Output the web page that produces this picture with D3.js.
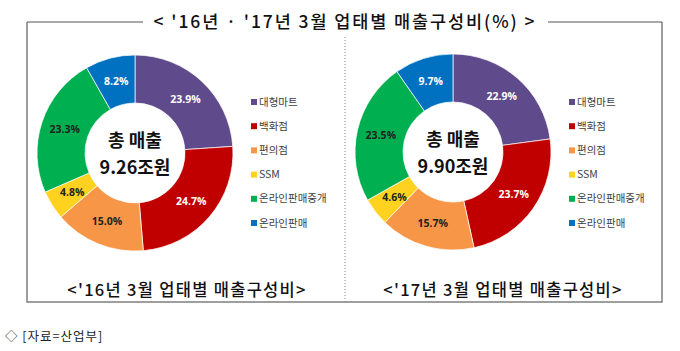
<!DOCTYPE html>
<html><head><meta charset="utf-8">
<script src="https://cdn.jsdelivr.net/npm/d3@7"></script>
<style>body{margin:0;background:#fff}svg{display:block}</style>
</head><body>
<svg id="c" width="680" height="351"></svg>
<script>
const categories = ["대형마트","백화점","편의점","SSM","온라인판매중개","온라인판매"];
const values2016 = [23.9,24.7,15.0,4.8,23.3,8.2];
const values2017 = [22.9,23.7,15.7,4.6,23.5,9.7];
const totals = ["9.26조원","9.90조원"];
const captions = ["<'16년 3월 업태별 매출구성비>","<'17년 3월 업태별 매출구성비>"];
const title = "< '16년 · '17년 3월 업태별 매출구성비(%) >";
const source = "◇ [자료=산업부]";
const colors = ["#5f4b8b","#c00000","#f79646","#ffd21f","#00b050","#0070c0"];
const labelColors = ["#fff","#fff","#222","#222","#222","#fff"];

const svg = d3.select("#c");
const KR = "'Noto Sans CJK KR', sans-serif";

// frame
const fx0=27, fx1=662, fy0=22, fy1=302;
svg.append("path").attr("d",`M${fx0},${fy0} L${fx0},${fy1} L${fx1},${fy1} L${fx1},${fy0}`)
  .attr("fill","none").attr("stroke","#7f7f7f").attr("stroke-width",1.5);
svg.append("line").attr("x1",fx0).attr("x2",143).attr("y1",fy0).attr("y2",fy0).attr("stroke","#555").attr("stroke-width",1);
svg.append("line").attr("x1",548).attr("x2",fx1).attr("y1",fy0).attr("y2",fy0).attr("stroke","#555").attr("stroke-width",1);
svg.append("line").attr("x1",345).attr("x2",345).attr("y1",37).attr("y2",fy1)
  .attr("stroke","#888").attr("stroke-width",1).attr("stroke-dasharray","1,2");

svg.append("text").attr("x",345).attr("y",28).attr("text-anchor","middle")
  .attr("font-family",KR).attr("font-weight",500).attr("font-size",17.5).attr("letter-spacing",1.9)
  .attr("fill","#111").text(title);

const pie = d3.pie().sort(null).value(d=>d);
const arc = d3.arc().innerRadius(50).outerRadius(98);
const labelArc = d3.arc().innerRadius(74).outerRadius(74);

function donut(vals, cx, cy, total, caption, capX, legX){
  const g = svg.append("g").attr("transform",`translate(${cx},${cy})`);
  const arcs = pie(vals);
  g.selectAll("path").data(arcs).join("path").attr("d",arc)
    .attr("fill",(d,i)=>colors[i]).attr("stroke","#fff").attr("stroke-opacity",0.7).attr("stroke-width",1);
  g.selectAll("text.lbl").data(arcs).join("text").attr("class","lbl")
    .attr("transform",d=>`translate(${labelArc.centroid(d)})`)
    .attr("text-anchor","middle").attr("dy","0.35em")
    .attr("font-family","'Open Sans', sans-serif").attr("font-weight",700).attr("font-size",10.5)
    .attr("fill",(d,i)=>labelColors[i]).text(d=>d.data.toFixed(1)+"%");
  g.append("text").attr("y",-12).attr("dy","0.35em").attr("text-anchor","middle")
    .attr("font-family",KR).attr("font-weight",700).attr("font-size",18).attr("fill","#111").text("총 매출");
  g.append("text").attr("y",15).attr("dy","0.35em").attr("text-anchor","middle")
    .attr("font-family",KR).attr("font-weight",700).attr("font-size",18).attr("fill","#111").text(total);
  const lg = svg.append("g");
  const ly = d3.scalePoint().domain(categories).range([102,223]);
  categories.forEach((c,i)=>{
    lg.append("rect").attr("x",legX).attr("y",ly(c)-3).attr("width",6).attr("height",6).attr("fill",colors[i]);
    lg.append("text").attr("x",legX+8).attr("y",ly(c)).attr("dy","0.35em")
      .attr("font-family",KR).attr("font-size",10.5).attr("fill","#404040").text(c);
  });
  svg.append("text").attr("x",capX).attr("y",296).attr("text-anchor","middle")
    .attr("font-family",KR).attr("font-weight",500).attr("font-size",16.5).attr("letter-spacing",1.3)
    .attr("fill","#111").text(caption);
}
donut(values2016,135,153,totals[0],captions[0],187,251);
donut(values2017,453,152,totals[1],captions[1],503,569);

svg.append("text").attr("x",5).attr("y",341).attr("font-family",KR).attr("font-size",12.5).attr("letter-spacing",1)
  .attr("fill","#222").text(source);
</script>
</body></html>
